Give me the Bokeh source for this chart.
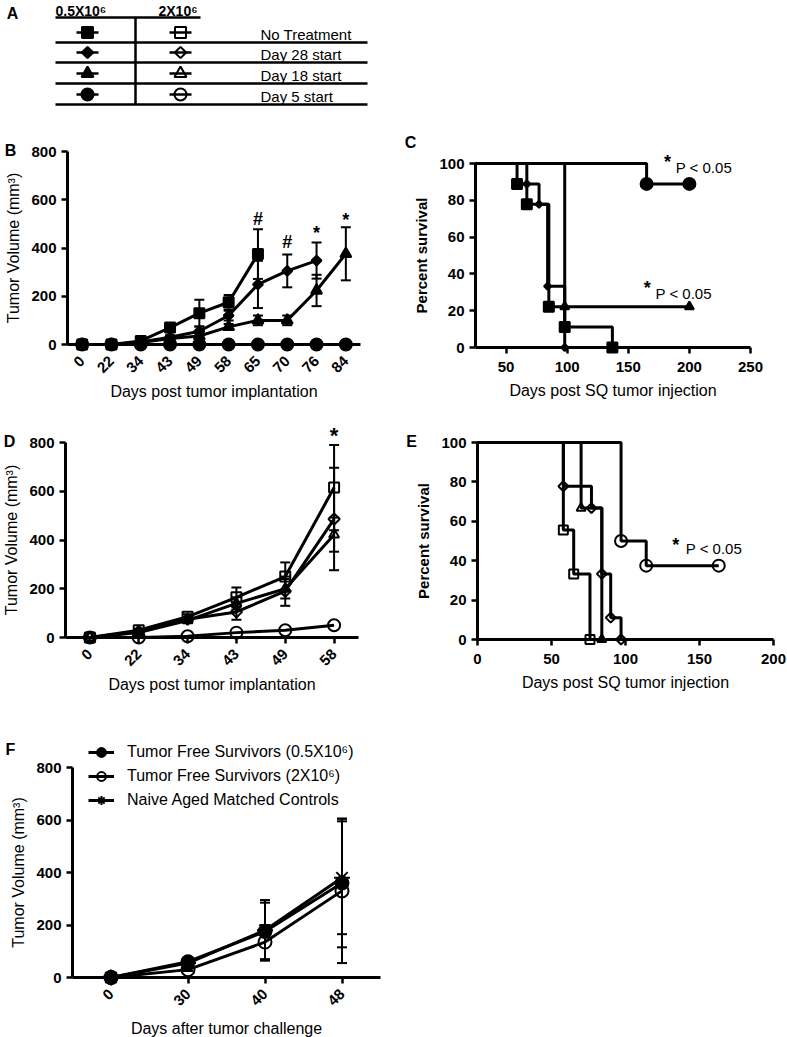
import math
from bokeh.plotting import figure
from bokeh.models import (Range1d, ColumnDataSource, Whisker, TeeHead,
                          Label, Legend, LegendItem, FixedTicker)
from bokeh.layouts import column, row
from bokeh.embed import file_html
from bokeh.resources import INLINE
from bokeh.core.properties import value

FONT = "Liberation Sans"

# ============================== DATA ==============================
# Panel A key
key_labels = ["No Treatment", "Day 28 start", "Day 18 start", "Day 5 start"]
key_markers = ["square", "diamond", "triangle", "circle"]
dose_headers = ["0.5X10⁶", "2X10⁶"]

# Panel B : tumour growth, 0.5X10^6 cells (filled symbols)
b_days = ["0", "22", "34", "43", "49", "58", "65", "70", "76", "84"]
b_notx = [0, 0, 15, 70, 130, 175, 375]
b_notx_err = [0, 0, 5, 10, 55, 30, 103]
b_d28 = [0, 0, 10, 30, 55, 120, 249, 305, 348]
b_d28_err = [0, 0, 3, 8, 20, 20, 98, 68, 75]
b_d18 = [0, 0, 8, 25, 35, 73, 100, 100, 224, 376]
b_d18_err = [0, 0, 3, 5, 8, 12, 20, 20, 65, 110]
b_d5 = [0, 0, 0, 0, 0, 0, 0, 0, 0, 0]
b_d5_err = [0, 0, 0, 0, 0, 0, 0, 0, 0, 0]
b_sig_days = ["65", "70", "76", "84"]
b_sig_text = ["#", "#", "*", "*"]
b_sig_y = [520, 424, 479, 534]

# Panel C : survival, 0.5X10^6 cells
c_notx_t = [0, 59, 67, 85, 98, 137]
c_notx_s = [100, 88.9, 77.8, 22.2, 11.1, 0]
c_d28_t = [0, 67, 77, 84, 98]
c_d28_s = [100, 88.9, 77.8, 33.3, 0]
c_d18_t = [0, 98, 200]
c_d18_s = [100, 22.2, 22.2]
c_d5_t = [0, 165, 200]
c_d5_s = [100, 88.9, 88.9]
c_sig_x = [182, 165.5]
c_sig_y = [103, 34.6]
c_sig_text = ["P < 0.05", "P < 0.05"]

# Panel D : tumour growth, 2X10^6 cells (open symbols)
d_days = ["0", "22", "34", "43", "49", "58"]
d_notx = [0, 30, 85, 165, 250, 615]
d_notx_err = [0, 5, 10, 40, 58, 175]
d_d28 = [0, 25, 75, 105, 190, 486]
d_d28_err = [0, 5, 8, 32, 60, 210]
d_d18 = [0, 20, 70, 140, 200, 422]
d_d18_err = [0, 5, 8, 25, 40, 70]
d_d5 = [0, 0, 5, 20, 30, 50]
d_d5_err = [0, 0, 0, 0, 0, 0]
d_sig_days = ["58"]
d_sig_text = ["*"]
d_sig_y = [849]

# Panel E : survival, 2X10^6 cells
e_notx_t = [0, 58, 65, 76]
e_notx_s = [100, 55.6, 33.3, 0]
e_d28_t = [0, 58, 77, 84, 90, 97]
e_d28_s = [100, 77.8, 66.7, 33.3, 11.1, 0]
e_d18_t = [0, 70, 84]
e_d18_s = [100, 66.7, 0]
e_d5_t = [0, 97, 114, 163]
e_d5_s = [100, 50, 37.5, 37.5]
e_sig_x = [134]
e_sig_y = [50]
e_sig_text = ["P < 0.05"]

# Panel F : re-challenge
f_days = ["0", "30", "40", "48"]
f_tfs05 = [0, 60, 175, 360]
f_tfs05_err = [0, 10, 110, 245]
f_tfs2 = [0, 30, 135, 330]
f_tfs2_err = [0, 5, 65, 275]
f_naive = [0, 55, 180, 380]
f_naive_err = [0, 10, 115, 215]
f_labels = ["Tumor Free Survivors (0.5X10⁶)", "Tumor Free Survivors (2X10⁶)",
            "Naive Aged Matched Controls"]

# ============================== STYLE / LAYOUT ==============================
MARK = {
    "square": dict(marker="square", angle=0.0),
    "diamond": dict(marker="square", angle=math.pi / 4),
    "triangle": dict(marker="triangle", angle=0.0),
    "circle": dict(marker="circle", angle=0.0),
    "asterisk": dict(marker="asterisk", angle=0.0),
}
SIZES_A = {"square": 11, "diamond": 8, "triangle": 12, "circle": 12}
SIZES_B = {"square": 10, "diamond": 7, "triangle": 11, "circle": 12}
SIZES_C = {"square": 10, "diamond": 5, "triangle": 9, "circle": 12}
SIZES_D = {"square": 10, "diamond": 8, "triangle": 10, "circle": 12}
SIZES_E = {"square": 9, "diamond": 7, "triangle": 9, "circle": 12}
SIZES_F = {"circle": 13, "asterisk": 16}
LW = 3


class Geo:
    """Page-pixel geometry of one panel: the frame fills the whole figure box,
    two calibration points per axis give the data <-> page mapping."""

    def __init__(self, box, xa, xb, ya, yb):
        fx0, fy0, fx1, fy1 = box
        self.w, self.h = fx1 - fx0, fy1 - fy0
        self.sx = (xb[1] - xa[1]) / (xb[0] - xa[0])
        self.sy = (ya[1] - yb[1]) / (yb[0] - ya[0])
        self.xa, self.ya = xa, ya
        self.x_range = Range1d(self.xd(fx0), self.xd(fx1))
        self.y_range = Range1d(self.yd(fy1), self.yd(fy0))

    def xd(self, px):
        return self.xa[0] + (px - self.xa[1]) / self.sx

    def yd(self, py):
        return self.ya[0] + (self.ya[1] - py) / self.sy


GB = Geo((0, 130, 400, 402), (0, 67), (10, 360), (0, 344), (800, 151))
GC = Geo((400, 130, 787, 402), (25, 475), (250, 750), (0, 347), (100, 163))
GD = Geo((0, 402, 400, 695), (0, 65), (6, 358), (0, 637), (800, 442))
GE = Geo((400, 402, 787, 695), (0, 477), (200, 773), (0, 639), (100, 442))
GF = Geo((0, 695, 400, 1037), (0, 72), (4, 380), (0, 977), (800, 767))


def base_fig(g):
    p = figure(width=g.w, height=g.h, x_range=g.x_range, y_range=g.y_range,
               output_backend="svg", toolbar_location=None, min_border=0)
    p.outline_line_color = None
    p.grid.visible = False
    p.background_fill_color = "white"
    p.border_fill_color = "white"
    return p


def style_axes(p, xlabel, ylabel, xbounds, ybounds, xticks, yticks, ybold=False,
               xoverrides=None, rotate=False, xlabel_standoff=7, ylabel_size="15px"):
    for ax in p.axis:
        ax.axis_line_width = 3
        ax.axis_line_color = "black"
        ax.major_tick_line_width = 2.5
        ax.major_tick_line_color = "black"
        ax.major_tick_out = 6
        ax.major_tick_in = 0
        ax.minor_tick_line_color = None
        ax.major_label_text_font = FONT
        ax.major_label_text_font_size = "15px"
        ax.major_label_text_font_style = "bold"
        ax.major_label_text_color = "black"
        ax.axis_label_text_font = FONT
        ax.axis_label_text_font_size = "15px"
        ax.axis_label_text_color = "black"
    p.yaxis.major_label_standoff = 5
    p.yaxis.axis_label_standoff = 6
    p.xaxis.major_label_standoff = 8
    p.xaxis.axis_label_standoff = xlabel_standoff
    p.xaxis.axis_label = xlabel
    p.xaxis.axis_label_text_font_style = "normal"
    p.xaxis.axis_label_text_font_size = "16px"
    p.yaxis.axis_label = ylabel
    p.yaxis.axis_label_text_font_size = ylabel_size
    p.yaxis.axis_label_text_font_style = "bold" if ybold else "normal"
    p.xaxis.fixed_location = ybounds[0]
    p.yaxis.fixed_location = xbounds[0]
    p.xaxis.bounds = xbounds
    p.yaxis.bounds = ybounds
    p.xaxis.ticker = FixedTicker(ticks=xticks)
    p.yaxis.ticker = FixedTicker(ticks=yticks)
    if xoverrides:
        p.xaxis.major_label_overrides = xoverrides
    if rotate:
        p.xaxis.major_label_orientation = math.pi / 4


def add_label(p, x, y, text, size, bold=False, align="center", yoff=0):
    p.add_layout(Label(x=x, y=y, text=text, text_font=FONT, text_font_size=size,
                       text_font_style="bold" if bold else "normal", text_color="black",
                       text_align=align, text_baseline="middle", y_offset=yoff))


def add_letter(p, g, px, py, letter):
    add_label(p, g.xd(px), g.yd(py), letter, "16px", bold=True)


def whiskers(p, xs, vals, errs):
    bx = [x for x, e in zip(xs, errs) if e > 0]
    lo = [v - e for v, e in zip(vals, errs) if e > 0]
    hi = [v + e for v, e in zip(vals, errs) if e > 0]
    if not bx:
        return
    src = ColumnDataSource(dict(x=bx, lo=lo, hi=hi))
    p.add_layout(Whisker(source=src, base="x", lower="lo", upper="hi", dimension="height",
                         line_width=2, line_color="black",
                         upper_head=TeeHead(size=10, line_width=2, line_color="black"),
                         lower_head=TeeHead(size=10, line_width=2, line_color="black")))


def cat_pos(days):
    # equally spaced categories: centre of slot i
    return [i + 0.5 for i in range(len(days))]


def growth_series(p, days, vals, errs, key, filled, size):
    xs = cat_pos(days)[:len(vals)]
    lr = p.line(xs, vals, line_width=LW, line_color="black")
    whiskers(p, xs, vals, errs[:len(vals)])
    sr = p.scatter(xs, vals, size=size, line_color="black", line_width=2,
                   fill_color="black" if filled else None, **MARK[key])
    return lr, sr


def survival_curve(p, t, s, key, filled, size, xmin):
    tt = [max(v, xmin) for v in t]
    p.step(tt, s, mode="after", line_width=LW, line_color="black")
    p.scatter(t[1:], s[1:], size=size, line_color="black", line_width=2,
              fill_color="black" if filled else None, **MARK[key])


def growth_axes(p, days, xlabel, ylabel, xlabel_standoff=3):
    style_axes(p, xlabel, ylabel, (0, len(days)), (0, 800), cat_pos(days),
               [0, 200, 400, 600, 800],
               xoverrides={x: d for x, d in zip(cat_pos(days), days)}, rotate=True,
               xlabel_standoff=xlabel_standoff, ylabel_size="16px")


# ============================== PANEL A ==============================
pa = figure(width=787, height=130, x_range=Range1d(0, 787), y_range=Range1d(130, 0),
            output_backend="svg", toolbar_location=None, min_border=0,
            x_axis_location=None, y_axis_location=None)
pa.outline_line_color = None
pa.grid.visible = False

AX = dict(left=55, divider=135, head_right=200, right=367, filled=87, open=180,
          key_half=11, label=260, head1=55, head2=158)
A_HEAD_LINE = 17
A_ROW_LINES = [42, 62, 83, 104]

x0s = [AX["left"]] + [AX["left"]] * len(A_ROW_LINES) + [AX["divider"]]
y0s = [A_HEAD_LINE] + A_ROW_LINES + [A_HEAD_LINE]
x1s = [AX["head_right"]] + [AX["right"]] * len(A_ROW_LINES) + [AX["divider"]]
y1s = [A_HEAD_LINE] + A_ROW_LINES + [A_ROW_LINES[-1]]
pa.segment(x0s, y0s, x1s, y1s, line_width=2.5, line_color="black")

row_y = [ly - 10 for ly in A_ROW_LINES]
for y, mk in zip(row_y, key_markers):
    for cx, filled in ((AX["filled"], True), (AX["open"], False)):
        pa.segment([cx - AX["key_half"]], [y], [cx + AX["key_half"]], [y],
                   line_width=2.5, line_color="black")
        pa.scatter([cx], [y], size=SIZES_A[mk], line_color="black", line_width=2,
                   fill_color="black" if filled else None, **MARK[mk])

pa.text([AX["label"]] * len(key_labels), [ly - 8 for ly in A_ROW_LINES], text=key_labels,
        text_font=value(FONT), text_font_size="15px", text_baseline="middle",
        text_align="left", text_color="black")
pa.text([AX["head1"], AX["head2"]], [A_HEAD_LINE - 7] * 2, text=dose_headers,
        text_font=value(FONT), text_font_size="14px", text_font_style="bold",
        text_baseline="middle", text_align="left", text_color="black")
pa.text([12], [13], text=["A"], text_font=value(FONT), text_font_size="16px",
        text_font_style="bold", text_baseline="middle", text_align="center", text_color="black")

# ============================== PANEL B ==============================
pb = base_fig(GB)
growth_axes(pb, b_days, "Days post tumor implantation", "Tumor Volume (mm³)")
growth_series(pb, b_days, b_notx, b_notx_err, "square", True, SIZES_B["square"])
growth_series(pb, b_days, b_d28, b_d28_err, "diamond", True, SIZES_B["diamond"])
growth_series(pb, b_days, b_d18, b_d18_err, "triangle", True, SIZES_B["triangle"])
growth_series(pb, b_days, b_d5, b_d5_err, "circle", True, SIZES_B["circle"])
for d, t, y in zip(b_sig_days, b_sig_text, b_sig_y):
    add_label(pb, b_days.index(d) + 0.5, y, t, "18px", bold=True, yoff=-4 if t == "*" else 0)
add_letter(pb, GB, 10, 150, "B")

# ============================== PANEL C ==============================
pc = base_fig(GC)
style_axes(pc, "Days post SQ tumor injection", "Percent survival", (25, 250), (0, 100),
           [50, 100, 150, 200, 250], [0, 20, 40, 60, 80, 100], ybold=True)
survival_curve(pc, c_d5_t, c_d5_s, "circle", True, SIZES_C["circle"], 25)
survival_curve(pc, c_d18_t, c_d18_s, "triangle", True, SIZES_C["triangle"], 25)
survival_curve(pc, c_d28_t, c_d28_s, "diamond", True, SIZES_C["diamond"], 25)
survival_curve(pc, c_notx_t, c_notx_s, "square", True, SIZES_C["square"], 25)
for x, y, t in zip(c_sig_x, c_sig_y, c_sig_text):
    add_label(pc, x, y, "*", "18px", bold=True, yoff=-4)
    add_label(pc, x + 6.8, y - 5.3, t, "15px", align="left")
add_letter(pc, GC, 410, 142, "C")

# ============================== PANEL D ==============================
pd_ = base_fig(GD)
growth_axes(pd_, d_days, "Days post tumor implantation", "Tumor Volume (mm³)")
growth_series(pd_, d_days, d_d5, d_d5_err, "circle", False, SIZES_D["circle"])
growth_series(pd_, d_days, d_d18, d_d18_err, "triangle", False, SIZES_D["triangle"])
growth_series(pd_, d_days, d_d28, d_d28_err, "diamond", False, SIZES_D["diamond"])
growth_series(pd_, d_days, d_notx, d_notx_err, "square", False, SIZES_D["square"])
for d, t, y in zip(d_sig_days, d_sig_text, d_sig_y):
    add_label(pd_, d_days.index(d) + 0.5, y, t, "22px", bold=True, yoff=-5)
add_letter(pd_, GD, 9, 441, "D")

# ============================== PANEL E ==============================
pe = base_fig(GE)
style_axes(pe, "Days post SQ tumor injection", "Percent survival", (0, 200), (0, 100),
           [0, 50, 100, 150, 200], [0, 20, 40, 60, 80, 100], ybold=True)
survival_curve(pe, e_d5_t, e_d5_s, "circle", False, SIZES_E["circle"], 0)
survival_curve(pe, e_d18_t, e_d18_s, "triangle", False, SIZES_E["triangle"], 0)
survival_curve(pe, e_d28_t, e_d28_s, "diamond", False, SIZES_E["diamond"], 0)
survival_curve(pe, e_notx_t, e_notx_s, "square", False, SIZES_E["square"], 0)
for x, y, t in zip(e_sig_x, e_sig_y, e_sig_text):
    add_label(pe, x, y, "*", "18px", bold=True, yoff=-4)
    add_label(pe, x + 6.7, y - 4, t, "15px", align="left")
add_letter(pe, GE, 411, 441, "E")

# ============================== PANEL F ==============================
pf = base_fig(GF)
growth_axes(pf, f_days, "Days after tumor challenge", "Tumor Volume (mm³)", xlabel_standoff=7)
r1 = growth_series(pf, f_days, f_tfs05, f_tfs05_err, "circle", True, SIZES_F["circle"])
r2 = growth_series(pf, f_days, f_tfs2, f_tfs2_err, "circle", False, SIZES_F["circle"])
r3 = growth_series(pf, f_days, f_naive, f_naive_err, "asterisk", False, SIZES_F["asterisk"])
legend = Legend(items=[LegendItem(label=lab, renderers=list(r)) for lab, r in zip(f_labels, (r1, r2, r3))],
                location=(88, 226), border_line_color=None, background_fill_alpha=0,
                padding=0, margin=0, spacing=2, glyph_width=26, glyph_height=22,
                label_height=22, label_standoff=13, label_text_font=FONT,
                label_text_font_size="16px", label_text_color="black")
pf.add_layout(legend)
add_letter(pf, GF, 10, 749, "F")

layout = column(pa, row(pb, pc), row(pd_, pe), pf)
open("out.html", "w").write(file_html(layout, INLINE))
